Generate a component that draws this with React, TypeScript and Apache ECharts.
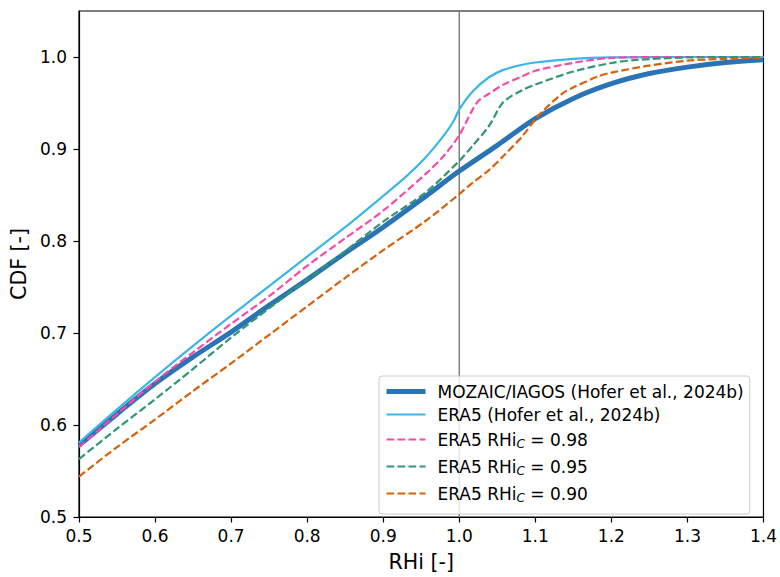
import React, { useEffect, useRef } from "react";
import * as echarts from "echarts";

const xTicks = [0.5, 0.6, 0.7, 0.8, 0.9, 1.0, 1.1, 1.2, 1.3, 1.4];
const yTicks = [0.5, 0.6, 0.7, 0.8, 0.9, 1.0];

const seriesNames = [
  "MOZAIC/IAGOS (Hofer et al., 2024b)",
  "ERA5 (Hofer et al., 2024b)",
  "ERA5 RHi_C = 0.98",
  "ERA5 RHi_C = 0.95",
  "ERA5 RHi_C = 0.90",
];

const mozaic: [number, number][] = [
  [0.5, 0.578], [0.55, 0.612], [0.6, 0.645], [0.65, 0.674], [0.7, 0.701],
  [0.75, 0.730], [0.8, 0.758], [0.85, 0.787], [0.9, 0.815], [0.95, 0.845],
  [1.0, 0.876], [1.05, 0.904], [1.1, 0.933], [1.15, 0.955], [1.2, 0.971],
  [1.25, 0.982], [1.3, 0.989], [1.35, 0.994], [1.4, 0.997],
];

const era5: [number, number][] = [
  [0.5, 0.581], [0.55, 0.617], [0.6, 0.652], [0.65, 0.686], [0.7, 0.719],
  [0.75, 0.751], [0.8, 0.783], [0.85, 0.815], [0.9, 0.849], [0.93, 0.870],
  [0.956, 0.891], [0.98, 0.915], [0.993, 0.931], [1.0, 0.943], [1.017, 0.962],
  [1.039, 0.978], [1.058, 0.986], [1.08, 0.991], [1.1, 0.994], [1.15, 0.998],
  [1.2, 0.9995], [1.3, 1.0], [1.4, 1.0],
];

const rhc098: [number, number][] = [
  [0.5, 0.576], [0.55, 0.612], [0.6, 0.647], [0.65, 0.679], [0.7, 0.710],
  [0.75, 0.740], [0.8, 0.773], [0.85, 0.803], [0.9, 0.833], [0.956, 0.873],
  [0.98, 0.893], [1.0, 0.915], [1.017, 0.942], [1.026, 0.953], [1.039, 0.960],
  [1.058, 0.970], [1.083, 0.979], [1.1, 0.985], [1.149, 0.9935], [1.2, 0.999],
  [1.3, 1.0], [1.4, 1.0],
];

const rhc095: [number, number][] = [
  [0.5, 0.563], [0.55, 0.596], [0.6, 0.628], [0.65, 0.661], [0.7, 0.695],
  [0.75, 0.727], [0.8, 0.758], [0.85, 0.789], [0.9, 0.821], [0.956, 0.853],
  [1.0, 0.887], [1.017, 0.903], [1.039, 0.925], [1.058, 0.951], [1.083, 0.964],
  [1.1, 0.970], [1.149, 0.984], [1.2, 0.9935], [1.236, 0.997], [1.3, 0.9995],
  [1.4, 1.0],
];

const rhc090: [number, number][] = [
  [0.5, 0.544], [0.55, 0.576], [0.6, 0.606], [0.65, 0.637], [0.7, 0.667],
  [0.75, 0.698], [0.8, 0.729], [0.85, 0.760], [0.9, 0.790], [0.956, 0.822],
  [1.0, 0.851], [1.017, 0.863], [1.039, 0.877], [1.06, 0.894], [1.083, 0.914],
  [1.105, 0.937], [1.135, 0.960], [1.15, 0.967], [1.183, 0.979], [1.2, 0.983],
  [1.245, 0.990], [1.3, 0.996], [1.35, 0.998], [1.4, 0.999],
];

const vline: [number, number][] = [[1.0, 0.5], [1.0, 1.05]];

const FONT = "DejaVu Sans";

export default function App() {
  const ref = useRef<HTMLDivElement>(null);
  useEffect(() => {
    document.body.style.margin = "0";
    const chart = echarts.init(ref.current!, null, { renderer: "svg" });
    const dash = [7.7, 3.3];
    const colors = ["#2a74b6", "#3cb5e9", "#f74aa6", "#2f9870", "#d9600a"];
    const widths = [5, 2.2, 2.2, 2.2, 2.2];
    const dashed = [false, false, true, true, true];
    const datasets = [mozaic, era5, rhc098, rhc095, rhc090];
    const lines = seriesNames.map((name, i) => ({
      name,
      type: "line",
      data: datasets[i],
      symbol: "none",
      smooth: 0.3,
      z: 2 + i,
      lineStyle: { color: colors[i], width: widths[i], type: dashed[i] ? dash : "solid", cap: "butt" },
      itemStyle: { color: colors[i] },
    }));
    chart.setOption({
      animation: false,
      backgroundColor: "#ffffff",
      textStyle: { fontFamily: FONT },
      grid: { left: 79, right: 15, top: 11, bottom: 57, show: true, borderColor: "#000", borderWidth: 1.2, backgroundColor: "transparent" },
      xAxis: {
        type: "value", min: 0.5, max: 1.4, interval: 0.1,
        name: "RHi [-]", nameLocation: "middle", nameGap: 34,
        nameTextStyle: { fontSize: 20.5, color: "#000", fontFamily: FONT },
        axisLine: { show: true, lineStyle: { color: "#000", width: 1.2 } },
        axisTick: { show: true, length: 5.5, lineStyle: { color: "#000", width: 1.2 }, customValues: xTicks },
        axisLabel: { fontSize: 17, color: "#000", margin: 10, fontFamily: FONT, customValues: xTicks, formatter: (v: number) => v.toFixed(1) },
        splitLine: { show: false },
      },
      yAxis: {
        type: "value", min: 0.5, max: 1.05, interval: 0.1,
        name: "CDF [-]", nameLocation: "middle", nameGap: 47,
        nameTextStyle: { fontSize: 20.5, color: "#000", fontFamily: FONT },
        axisLine: { show: true, lineStyle: { color: "#000", width: 1.2 } },
        axisTick: { show: true, length: 5.5, lineStyle: { color: "#000", width: 1.2 }, customValues: yTicks },
        axisLabel: { fontSize: 17, color: "#000", margin: 12, fontFamily: FONT, customValues: yTicks, formatter: (v: number) => v.toFixed(1) },
        splitLine: { show: false },
      },
      legend: {
        data: seriesNames.map((name, i) => ({
          name,
          lineStyle: { width: widths[i], color: colors[i], type: dashed[i] ? dash : "solid", cap: "butt" },
        })),
        orient: "vertical",
        left: 379,
        top: 376,
        itemWidth: 39,
        itemHeight: 14,
        itemGap: 6,
        padding: [7, 6, 10, 5],
        backgroundColor: "rgba(255,255,255,0.8)",
        borderColor: "#cccccc",
        borderWidth: 1,
        borderRadius: 3,
        selectedMode: false,
        itemStyle: { opacity: 0, borderWidth: 0 },
        formatter: (name: string) => {
          const i = name.indexOf("RHi_C");
          if (i < 0) return "{n|" + name + "}";
          return "{n|" + name.slice(0, i) + "RHi}{s|C}{n|" + name.slice(i + 5) + "}";
        },
        textStyle: {
          fontFamily: FONT,
          fontSize: 17,
          color: "#000",
          padding: [0, 0, 0, 7],
          rich: {
            n: { fontSize: 17, lineHeight: 20, color: "#000", fontFamily: FONT },
            s: { fontSize: 12, lineHeight: 12, padding: [9, 0, 0, 0], fontStyle: "italic", color: "#000", fontFamily: FONT },
          },
        },
      },
      series: [
        {
          name: "vline", type: "line", data: vline, symbol: "none", z: 1,
          lineStyle: { color: "#808080", width: 1.5 }, silent: true,
        },
        ...lines,
      ],
    });
    return () => chart.dispose();
  }, []);
  return <div ref={ref} style={{ width: 780, height: 577 }} />;
}
